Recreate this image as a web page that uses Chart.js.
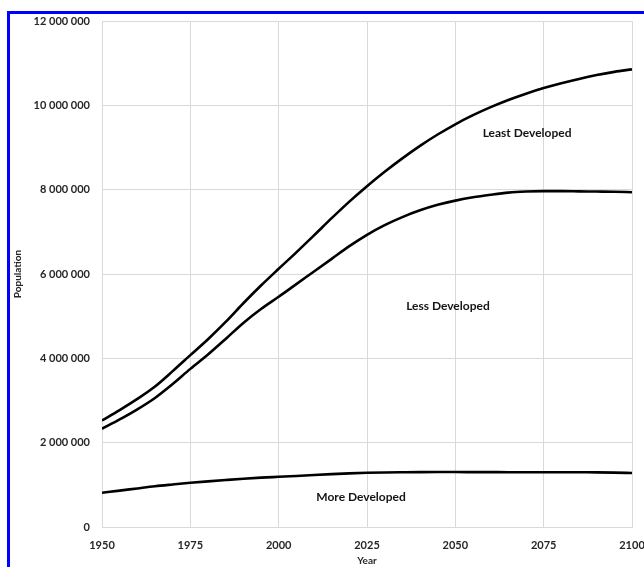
<!DOCTYPE html>
<html>
<head>
<meta charset="utf-8">
<script src="https://cdn.jsdelivr.net/npm/chart.js@4/dist/chart.umd.min.js"></script>
<style>
  html, body { margin: 0; padding: 0; background: #fff; overflow: hidden; }
  #wrap { position: relative; width: 644px; height: 567px; overflow: hidden; }
  #frame { position: absolute; left: 7px; top: 11px; width: 700px; height: 600px;
           border-left: 3px solid #0000ff; border-top: 3px solid #0000ff; box-sizing: border-box; }
  #c { position: absolute; left: 0; top: 0; }
</style>
</head>
<body>
<div id="wrap">
  <div id="frame"></div>
  <canvas id="c" width="644" height="567"></canvas>
</div>
<script>
// Population by development group (cumulative lines), 1950–2100
const years = [1950,1955,1960,1965,1970,1975,1980,1985,1990,1995,2000,2005,2010,2015,2020,2025,
               2030,2035,2040,2045,2050,2055,2060,2065,2070,2075,2080,2085,2090,2095,2100];

// Top line: least developed stacked on the rest (world total)
const leastDeveloped = [2526000,2773000,3038000,3333000,3696000,4076000,4453000,4863000,5306000,5726000,
                        6123000,6514000,6916000,7324000,7717000,8083000,8425000,8743000,9039000,9308000,
                        9551000,9766000,9957000,10127000,10277000,10409000,10524000,10626000,10717000,10794000,10854000];

// Middle line: less developed stacked on more developed
const lessDeveloped = [2330000,2550000,2790000,3060000,3390000,3750000,4090000,4460000,4840000,5170000,
                       5460000,5760000,6060000,6360000,6660000,6930000,7160000,7350000,7510000,7640000,
                       7740000,7820000,7880000,7930000,7955000,7965000,7965000,7960000,7955000,7950000,7940000];

// Bottom line: more developed regions
const moreDeveloped = [813000,863000,915000,966000,1008000,1048000,1083000,1115000,1145000,1170000,
                       1190000,1210000,1235000,1255000,1272000,1285000,1293000,1298000,1302000,1303000,
                       1303000,1302000,1301000,1300000,1300000,1299000,1298000,1297000,1296000,1290000,1280000];

const yTicks = [0,2000000,4000000,6000000,8000000,10000000,12000000];
const xTicks = [1950,1975,2000,2025,2050,2075,2100];

// Region captions, anchored in data coordinates
const regionLabels = [
  { text: 'Least Developed', year: 2070.3, value: 9340000 },
  { text: 'Less Developed',  year: 2047.9, value: 5240000 },
  { text: 'More Developed',  year: 2023.3, value: 710000 }
];

const FONT = 'Lato, Calibri, "Open Sans", sans-serif';
const GRID = '#d9d9d9';

function fmt(v) {
  return String(Math.round(v)).replace(/\B(?=(\d{3})+(?!\d))/g, ' ');
}

function series(vals) {
  return vals.map((v, i) => ({ x: years[i], y: v }));
}

const lineStyle = {
  borderColor: '#000',
  borderWidth: 2.6,
  pointRadius: 0,
  fill: false,
  cubicInterpolationMode: 'monotone'
};

const regionLabelPlugin = {
  id: 'regionLabels',
  afterDatasetsDraw(chart) {
    const { ctx, scales } = chart;
    ctx.save();
    ctx.font = 'bold 12px ' + FONT;
    ctx.fillStyle = '#141414';
    ctx.textAlign = 'center';
    ctx.textBaseline = 'middle';
    regionLabels.forEach(l => {
      ctx.fillText(l.text, scales.x.getPixelForValue(l.year), scales.y.getPixelForValue(l.value));
    });
    ctx.restore();
  }
};

new Chart(document.getElementById('c'), {
  type: 'line',
  data: {
    datasets: [
      Object.assign({ label: 'Least Developed', data: series(leastDeveloped) }, lineStyle),
      Object.assign({ label: 'Less Developed',  data: series(lessDeveloped) }, lineStyle),
      Object.assign({ label: 'More Developed',  data: series(moreDeveloped) }, lineStyle)
    ]
  },
  options: {
    responsive: false,
    animation: false,
    events: [],
    layout: { padding: { left: 12, top: 21, right: 12, bottom: 0 } },
    plugins: { legend: { display: false }, tooltip: { enabled: false } },
    scales: {
      x: {
        type: 'linear',
        min: 1950, max: 2100,
        afterBuildTicks(scale) { scale.ticks = xTicks.map(v => ({ value: v })); },
        afterFit(scale) {
          scale.height = 40;
          // let the last year label run to the canvas edge
          scale.paddingLeft = 0;
          scale.paddingRight = 0;
        },
        grid: { color: GRID, lineWidth: 1, drawTicks: false },
        border: { color: GRID, width: 1 },
        ticks: {
          padding: 12,
          maxRotation: 0,
          color: '#262626',
          font: { family: FONT, size: 11, weight: 'bold' },
          callback: v => String(v)
        },
        title: {
          display: true, text: 'Year', padding: 0,
          color: '#262626',
          font: { family: FONT, size: 10, weight: 'bold' }
        }
      },
      y: {
        type: 'linear',
        min: 0, max: 12000000,
        afterBuildTicks(scale) { scale.ticks = yTicks.map(v => ({ value: v })); },
        afterFit(scale) { scale.width = 90; },
        grid: { color: GRID, lineWidth: 1, drawTicks: false },
        border: { color: GRID, width: 1 },
        ticks: {
          padding: 12,
          color: '#262626',
          font: { family: FONT, size: 11, weight: 'bold' },
          callback: v => fmt(v)
        },
        title: {
          display: true, text: 'Population', padding: 0,
          color: '#262626',
          font: { family: FONT, size: 10, weight: 'bold' }
        }
      }
    }
  },
  plugins: [regionLabelPlugin]
});
</script>
</body>
</html>
